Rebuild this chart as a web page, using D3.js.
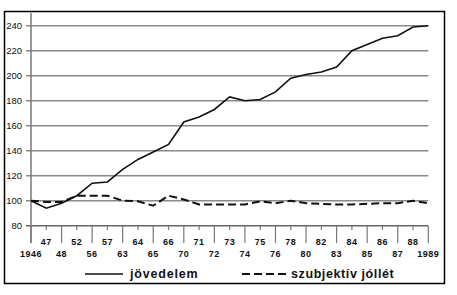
<!DOCTYPE html>
<html>
<head>
<meta charset="utf-8">
<script src="https://cdn.jsdelivr.net/npm/d3@7"></script>
<style>
  body { margin: 0; background: #fff; }
  text { font-family: "Liberation Sans", Arial, sans-serif; fill: #111; }
</style>
</head>
<body>
<div id="chart"></div>
<script>
// categories (x axis, uneven years shown as equal steps)
const years = ["1946","47","48","52","56","57","63","64","65","66","70","71","72","73",
               "74","75","76","78","80","82","83","84","85","86","87","88","1989"];
// series values (1946 = 100)
const jovedelem = [100, 94, 98, 104, 114, 115, 125, 133, 139, 145, 163, 167, 173, 183,
                   180, 181, 187, 198, 201, 203, 207, 220, 225, 230, 232, 239, 240];
const jollet = [100, 99, 99, 104, 104, 104, 100, 99.5, 96, 104, 101, 97, 97, 97,
                97, 99.5, 98, 100, 98, 97.5, 97, 97, 97.5, 98, 98, 100, 98];
const yTicks = [80, 100, 120, 140, 160, 180, 200, 220, 240];
const legendLabels = ["jövedelem", "szubjektív jóllét"];

const width = 457, height = 295;
const svg = d3.select("#chart").append("svg")
    .attr("width", width).attr("height", height);

// outer frame
svg.append("rect")
    .attr("x", 4.5).attr("y", 11.5)
    .attr("width", 440).attr("height", 272)
    .attr("fill", "none").attr("stroke", "#000").attr("stroke-width", 1.5);

const xScale = d3.scalePoint().domain(years).range([31, 428.3]);
const yScale = d3.scaleLinear().domain([80, 240]).range([225.7, 25.7]);

// gridlines + y labels
const grid = svg.append("g");
grid.selectAll("line")
    .data(yTicks)
    .join("line")
    .attr("x1", 26).attr("x2", 428.3)
    .attr("y1", d => yScale(d)).attr("y2", d => yScale(d))
    .attr("stroke", d => d == 80 ? "#666" : "#8a8a8a")
    .attr("stroke-width", 1.5);
grid.selectAll("text")
    .data(yTicks)
    .join("text")
    .attr("x", 22).attr("y", d => yScale(d))
    .attr("dy", "0.35em")
    .attr("text-anchor", "end")
    .attr("font-size", "9.5px")
    .text(d => d);

// y axis line
svg.append("line")
    .attr("x1", 31).attr("x2", 31)
    .attr("y1", 13).attr("y2", 243)
    .attr("stroke", "#777").attr("stroke-width", 1.5);

// x ticks: long for even index, short for odd
const xAxis = svg.append("g");
xAxis.selectAll("line")
    .data(years)
    .join("line")
    .attr("x1", d => xScale(d)).attr("x2", d => xScale(d))
    .attr("y1", yScale(80))
    .attr("y2", (d, i) => i % 2 == 0 ? 243 : 230)
    .attr("stroke", "#777").attr("stroke-width", 1.2);
xAxis.selectAll("text")
    .data(years)
    .join("text")
    .attr("x", d => xScale(d))
    .attr("y", (d, i) => i % 2 == 0 ? 257 : 244.5)
    .attr("text-anchor", "middle")
    .attr("font-size", "9px")
    .attr("font-weight", "bold")
    .attr("letter-spacing", "0.5px")
    .text(d => d);

// series lines
const line = d3.line()
    .x((d, i) => xScale(years[i]))
    .y(d => yScale(d));

svg.append("path")
    .datum(jollet)
    .attr("d", line)
    .attr("fill", "none")
    .attr("stroke", "#111")
    .attr("stroke-width", 2)
    .attr("stroke-dasharray", "8,4");

svg.append("path")
    .datum(jovedelem)
    .attr("d", line)
    .attr("fill", "none")
    .attr("stroke", "#111")
    .attr("stroke-width", 1.6);

// legend
const legend = svg.append("g");
legend.append("line")
    .attr("x1", 85).attr("x2", 123).attr("y1", 274).attr("y2", 274)
    .attr("stroke", "#111").attr("stroke-width", 1.6);
legend.append("text")
    .attr("x", 130).attr("y", 278)
    .attr("font-size", "12.5px").attr("font-weight", "bold")
    .attr("letter-spacing", "0.8px")
    .text(legendLabels[0]);
legend.append("line")
    .attr("x1", 242).attr("x2", 286).attr("y1", 274).attr("y2", 274)
    .attr("stroke", "#111").attr("stroke-width", 2)
    .attr("stroke-dasharray", "8,4");
legend.append("text")
    .attr("x", 291).attr("y", 278)
    .attr("font-size", "12.5px").attr("font-weight", "bold")
    .attr("letter-spacing", "0.6px")
    .text(legendLabels[1]);
</script>
</body>
</html>
